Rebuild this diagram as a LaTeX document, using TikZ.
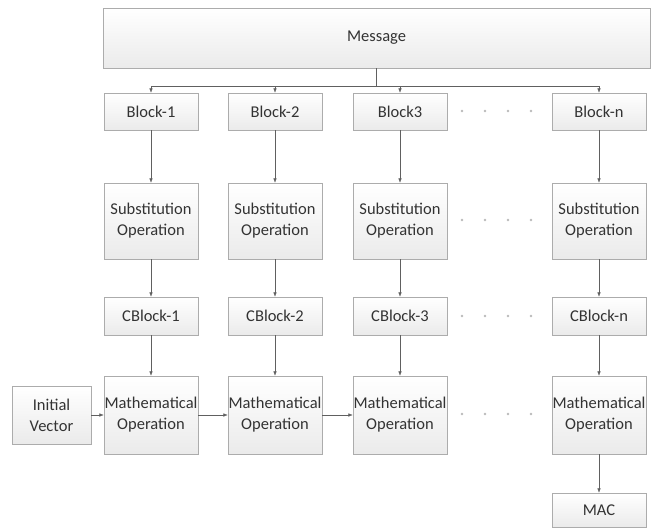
\documentclass[tikz,border=0pt]{standalone}
\usepackage{fontspec}
\setmainfont{Carlito}
\usetikzlibrary{arrows.meta,shadows}
\begin{document}
\begin{tikzpicture}[x=1pt,y=-1pt,
 box/.style={draw=gray!65, top color=white, bottom color=gray!16, minimum width=94pt, align=center, inner sep=0pt,
   font=\fontsize{16.5}{21}\selectfont, text=black!80,
   drop shadow={shadow xshift=1.2pt, shadow yshift=-1.2pt, fill=gray!50, opacity=0.4}},
 arr/.style={draw=gray!75!black, line width=0.5pt, -{Latex[length=4.5pt,width=3.5pt]}},
 dotmark/.style={fill=gray!55}]
\useasboundingbox (0,0) rectangle (652,528);

\node[box, minimum width=547pt, minimum height=60pt] (msg) at (376.5,38) {Message};

\foreach \n/\x/\lb in {1/151/Block-1, 2/275/Block-2, 3/400/Block3, n/599/Block-n}{
  \node[box, minimum height=37pt] (b\n) at (\x,111.5) {\lb};
  \node[box, minimum height=76pt] (s\n) at (\x,221) {Substitution\\Operation};
  \node[box, minimum height=38pt] (c\n) at (\x,316) {CBlock-\n};
  \node[box, minimum height=78pt] (m\n) at (\x,415) {Mathematical\\Operation};
  \draw[arr] (msg.south) -- ++(0,18) -| (b\n.north);
  \draw[arr] (b\n) -- (s\n);
  \draw[arr] (s\n) -- (c\n);
  \draw[arr] (c\n) -- (m\n);
}
\node[box, minimum width=79pt, minimum height=58pt] (iv) at (51.5,415) {Initial\\Vector};
\node[box, minimum height=34pt] (mac) at (599,510) {MAC};
\draw[arr] (mn) -- (mac);
\draw[arr] (iv) -- (m1);
\draw[arr] (m1) -- (m2);
\draw[arr] (m2) -- (m3);

\foreach \y in {111,220,316,414}{
  \foreach \x in {462,485,508,531}{
    \fill[dotmark] (\x,\y) circle (1.3pt);
  }
}
\end{tikzpicture}
\end{document}
